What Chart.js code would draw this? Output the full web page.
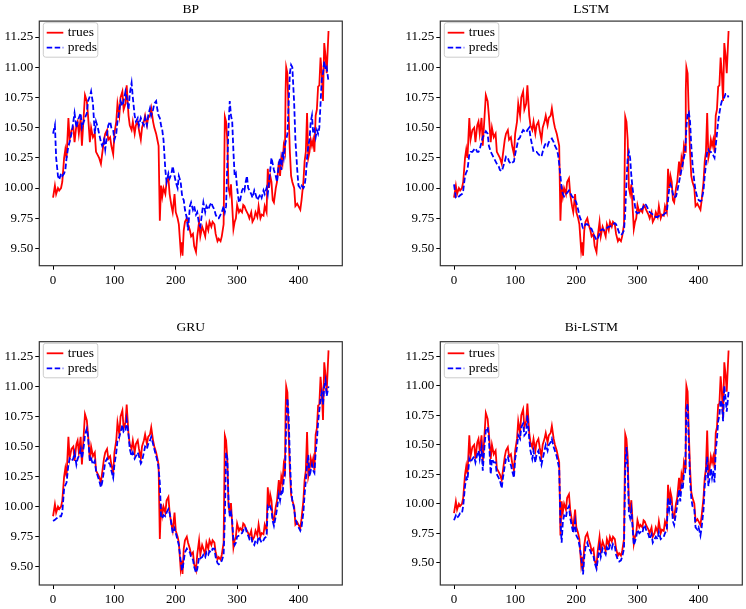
<!DOCTYPE html>
<html>
<head>
<meta charset="utf-8">
<script src="https://cdn.jsdelivr.net/npm/chart.js@4.4.0/dist/chart.umd.min.js"></script>
<style>
  html, body { margin: 0; padding: 0; background: #fff; overflow: hidden; }
  body { width: 746px; height: 609px; position: relative; }
  .panel { position: absolute; }
</style>
</head>
<body>
<div class="panel" id="p1" style="left:0px;top:0px;width:350px;height:300px"><canvas id="c1"></canvas></div>
<div class="panel" id="p2" style="left:401px;top:0px;width:345px;height:300px"><canvas id="c2"></canvas></div>
<div class="panel" id="p3" style="left:0px;top:316px;width:350px;height:293px"><canvas id="c3"></canvas></div>
<div class="panel" id="p4" style="left:401px;top:316px;width:345px;height:293px"><canvas id="c4"></canvas></div>
<script>
// sample index (x) shared by every series
const xs = [
  0,3,5,8,10,13,15,18,20,22,
  25,27,30,33,35,38,40,42,45,47,
  50,52,55,57,60,62,65,68,70,73,
  75,78,80,83,85,88,90,93,95,98,
  100,103,105,108,110,113,115,118,120,123,
  125,128,130,133,135,138,140,143,145,148,
  150,153,155,158,160,163,165,168,170,172,
  174,176,178,180,183,185,188,190,193,195,
  198,200,203,205,208,210,211,213,215,218,
  220,223,225,228,230,233,235,238,240,243,
  245,248,250,253,255,258,260,263,265,268,
  270,273,275,278,280,282,284,286,288,290,
  292,294,296,298,300,303,305,308,310,312,
  314,316,318,320,323,325,328,330,333,335,
  338,340,343,345,348,350,352,354,356,358,
  360,363,365,368,370,372,374,376,378,379,
  380,382,384,386,388,390,393,395,398,400,
  403,405,408,410,412,414,416,418,420,422,
  424,426,428,430,432,434,436,438,440,442,
  444,446,449
];

const trues = [
  9.92,10.02,9.95,10.00,9.98,10.00,10.05,10.25,10.32,10.25,
  10.58,10.40,10.48,10.50,10.38,10.52,10.55,10.45,10.58,10.35,
  10.60,10.77,10.72,10.60,10.38,10.50,10.42,10.45,10.30,10.27,
  10.25,10.20,10.28,10.40,10.45,10.48,10.40,10.42,10.35,10.28,
  10.45,10.55,10.70,10.60,10.75,10.80,10.65,10.70,10.85,10.60,
  10.52,10.48,10.55,10.45,10.52,10.55,10.48,10.40,10.50,10.55,
  10.60,10.52,10.58,10.60,10.66,10.55,10.50,10.45,10.40,10.35,
  9.73,10.02,9.93,10.00,9.95,10.05,10.08,9.95,9.85,9.80,
  9.95,9.80,9.75,9.70,9.48,9.55,9.44,9.65,9.72,9.75,
  9.70,9.65,9.60,9.62,9.52,9.47,9.60,9.72,9.60,9.68,
  9.65,9.60,9.70,9.65,9.72,9.68,9.72,9.70,9.62,9.56,
  9.58,9.56,9.60,9.70,10.59,10.55,10.40,10.00,9.95,10.03,
  9.85,9.66,9.72,9.75,9.86,9.80,9.82,9.80,9.86,9.85,
  9.82,9.80,9.78,9.75,9.80,9.72,9.75,9.80,9.76,9.85,
  9.75,9.78,9.77,9.85,9.80,10.16,10.00,10.10,10.05,9.90,
  9.88,10.00,10.05,10.22,10.10,10.25,10.20,10.35,10.30,10.80,
  11.00,10.95,10.60,10.30,10.10,10.05,10.00,9.85,9.87,9.85,
  9.82,9.90,10.05,10.22,10.30,10.62,10.25,10.30,10.40,10.35,
  10.40,10.30,10.60,10.65,10.84,10.85,11.08,10.95,10.72,11.20,
  11.10,10.95,11.30
];

const predsBP = [
  10.45,10.52,10.25,10.10,10.07,10.12,10.10,10.12,10.15,10.25,
  10.35,10.38,10.45,10.55,10.62,10.50,10.55,10.58,10.62,10.50,
  10.55,10.58,10.62,10.72,10.76,10.80,10.70,10.45,10.55,10.50,
  10.45,10.38,10.35,10.40,10.32,10.45,10.52,10.55,10.50,10.48,
  10.40,10.45,10.55,10.65,10.72,10.68,10.72,10.80,10.75,10.65,
  10.78,10.87,10.75,10.60,10.55,10.58,10.52,10.58,10.55,10.52,
  10.58,10.52,10.60,10.66,10.60,10.65,10.70,10.72,10.65,10.60,
  10.58,10.52,10.48,10.40,10.15,10.05,10.12,10.08,10.12,10.18,
  10.10,10.05,10.00,10.10,10.05,9.95,9.92,9.90,9.82,9.75,
  9.65,9.85,9.88,9.82,9.85,9.78,9.80,9.70,9.68,9.80,
  9.88,9.80,9.85,9.82,9.85,9.88,9.85,9.82,9.78,9.75,
  9.75,9.78,9.80,9.85,9.80,9.85,10.20,10.50,10.72,10.60,
  10.55,10.30,10.10,10.12,10.00,9.88,9.90,9.98,10.00,9.98,
  10.05,10.10,10.00,9.98,9.95,9.92,9.98,9.95,9.90,9.92,
  9.95,9.92,9.98,9.95,10.00,9.95,10.05,10.15,10.25,10.20,
  10.15,10.10,10.05,10.20,10.25,10.15,10.30,10.25,10.35,10.38,
  10.40,10.45,10.70,10.95,11.02,11.00,10.70,10.40,10.15,10.02,
  10.00,10.02,10.00,10.02,10.10,10.25,10.35,10.40,10.55,10.60,
  10.45,10.48,10.42,10.48,10.45,10.50,10.70,10.90,10.95,11.05,
  10.98,11.00,10.88
];

const predsLSTM = [
  10.03,9.92,9.92,9.93,9.94,9.95,9.98,10.10,10.13,10.15,
  10.28,10.30,10.30,10.32,10.33,10.30,10.30,10.32,10.38,10.42,
  10.45,10.47,10.45,10.35,10.30,10.28,10.25,10.22,10.20,10.18,
  10.15,10.14,10.17,10.22,10.26,10.25,10.22,10.20,10.21,10.22,
  10.28,10.35,10.40,10.42,10.45,10.48,10.47,10.46,10.48,10.50,
  10.42,10.35,10.30,10.30,10.30,10.28,10.27,10.26,10.30,10.35,
  10.37,10.35,10.38,10.40,10.41,10.38,10.35,10.32,10.28,10.20,
  10.10,10.00,9.95,9.93,9.95,9.96,9.98,9.96,9.93,9.92,
  9.90,9.88,9.82,9.77,9.73,9.68,9.67,9.68,9.70,9.70,
  9.69,9.67,9.66,9.62,9.60,9.57,9.58,9.62,9.65,9.66,
  9.65,9.66,9.67,9.68,9.68,9.69,9.70,9.71,9.70,9.66,
  9.63,9.61,9.62,9.65,9.80,10.05,10.25,10.30,10.25,10.10,
  10.00,9.92,9.85,9.80,9.79,9.80,9.82,9.83,9.85,9.87,
  9.86,9.84,9.82,9.80,9.79,9.78,9.77,9.76,9.76,9.77,
  9.77,9.77,9.78,9.79,9.80,9.90,10.00,10.03,10.00,9.95,
  9.92,9.93,9.97,10.05,10.10,10.15,10.20,10.25,10.30,10.40,
  10.50,10.62,10.63,10.55,10.35,10.20,10.05,9.98,9.92,9.90,
  9.89,9.90,9.98,10.10,10.20,10.30,10.32,10.30,10.30,10.28,
  10.27,10.25,10.35,10.45,10.55,10.62,10.68,10.72,10.73,10.75,
  10.78,10.78,10.75
];

const predsGRU = [
  9.88,9.89,9.90,9.91,9.92,9.92,9.95,10.15,10.18,10.20,
  10.35,10.40,10.38,10.40,10.45,10.35,10.40,10.42,10.48,10.40,
  10.50,10.60,10.65,10.58,10.38,10.40,10.35,10.38,10.30,10.25,
  10.22,10.16,10.20,10.30,10.37,10.40,10.37,10.35,10.30,10.24,
  10.35,10.45,10.55,10.58,10.62,10.68,10.62,10.63,10.72,10.60,
  10.48,10.42,10.45,10.40,10.42,10.45,10.42,10.36,10.38,10.45,
  10.50,10.48,10.52,10.55,10.58,10.52,10.48,10.42,10.38,10.32,
  10.20,9.92,9.90,9.93,9.92,9.95,9.98,9.95,9.85,9.78,
  9.82,9.78,9.72,9.68,9.55,9.48,9.47,9.55,9.62,9.65,
  9.63,9.62,9.58,9.56,9.50,9.45,9.48,9.58,9.57,9.58,
  9.60,9.58,9.62,9.60,9.63,9.62,9.65,9.65,9.58,9.53,
  9.52,9.53,9.55,9.60,9.90,10.45,10.40,10.05,9.92,9.95,
  9.88,9.72,9.68,9.70,9.75,9.76,9.77,9.78,9.80,9.83,
  9.82,9.78,9.76,9.73,9.75,9.70,9.68,9.72,9.70,9.75,
  9.72,9.70,9.72,9.74,9.75,10.00,9.98,10.00,9.97,9.88,
  9.84,9.92,9.98,10.10,10.05,10.12,10.10,10.22,10.28,10.45,
  10.70,10.90,10.75,10.40,10.15,10.05,9.98,9.90,9.85,9.83,
  9.80,9.83,9.95,10.10,10.22,10.35,10.43,10.25,10.30,10.35,
  10.30,10.28,10.45,10.55,10.70,10.80,10.90,10.95,10.85,11.00,
  11.05,10.92,11.00
];

const predsBiLSTM = [
  9.86,9.90,9.88,9.90,9.92,9.92,9.98,10.15,10.22,10.20,
  10.38,10.35,10.38,10.40,10.35,10.42,10.45,10.38,10.48,10.28,
  10.50,10.62,10.65,10.55,10.25,10.38,10.35,10.35,10.25,10.22,
  10.20,10.13,10.22,10.32,10.38,10.40,10.35,10.33,10.28,10.22,
  10.38,10.48,10.58,10.55,10.65,10.68,10.58,10.60,10.75,10.55,
  10.45,10.38,10.45,10.35,10.42,10.45,10.40,10.33,10.38,10.45,
  10.50,10.45,10.50,10.52,10.55,10.48,10.45,10.40,10.35,10.30,
  9.85,9.67,9.85,9.90,9.88,9.95,9.98,9.88,9.80,9.75,
  9.85,9.73,9.70,9.65,9.55,9.45,9.40,9.55,9.63,9.67,
  9.63,9.60,9.57,9.56,9.50,9.45,9.52,9.63,9.55,9.62,
  9.60,9.57,9.63,9.60,9.65,9.62,9.66,9.64,9.57,9.52,
  9.51,9.52,9.55,9.62,10.30,10.48,10.30,9.92,9.88,9.95,
  9.80,9.65,9.68,9.72,9.78,9.75,9.76,9.75,9.80,9.82,
  9.78,9.76,9.74,9.70,9.74,9.67,9.70,9.72,9.70,9.76,
  9.70,9.71,9.72,9.75,9.78,10.05,9.95,10.02,9.98,9.85,
  9.82,9.92,9.98,10.12,10.02,10.15,10.12,10.25,10.25,10.55,
  10.80,10.85,10.50,10.20,10.05,9.98,9.95,9.80,9.78,9.80,
  9.73,9.80,9.95,10.15,10.25,10.40,10.15,10.22,10.30,10.22,
  10.28,10.18,10.45,10.55,10.70,10.75,10.88,10.85,10.70,11.00,
  10.90,10.78,10.95
];

const xTicks = [0, 100, 200, 300, 400];
const yTicks = [9.50, 9.75, 10.00, 10.25, 10.50, 10.75, 11.00, 11.25];

Chart.defaults.font.family = '"Liberation Serif", "Times New Roman", serif';
Chart.defaults.font.size = 13;
Chart.defaults.color = '#000';

// frame round the axes + matplotlib style legend box in upper left
const axesDecor = {
  id: 'axesDecor',
  afterDatasetsDraw( chart ) {
    const { ctx, chartArea: a } = chart;
    ctx.save();
    ctx.strokeStyle = '#333';
    ctx.lineWidth = 1.2;
    ctx.strokeRect( a.left, a.top, a.right - a.left, a.bottom - a.top );

    const bx = a.left + 4, by = a.top + 1.6, bw = 54.5, bh = 34.5, r = 2.5;
    ctx.beginPath();
    ctx.moveTo( bx + r, by );
    ctx.arcTo( bx + bw, by, bx + bw, by + bh, r );
    ctx.arcTo( bx + bw, by + bh, bx, by + bh, r );
    ctx.arcTo( bx, by + bh, bx, by, r );
    ctx.arcTo( bx, by, bx + bw, by, r );
    ctx.closePath();
    ctx.fillStyle = 'rgba(255,255,255,0.8)';
    ctx.fill();
    ctx.strokeStyle = '#cccccc';
    ctx.lineWidth = 1;
    ctx.stroke();

    ctx.font = '13.5px "Liberation Serif", serif';
    ctx.textBaseline = 'middle';
    chart.data.datasets.forEach( ( ds, i ) => {
      const y = by + 10 + i * 15;
      ctx.beginPath();
      ctx.strokeStyle = ds.borderColor;
      ctx.lineWidth = ds.borderWidth;
      ctx.setLineDash( ds.borderDash || [] );
      ctx.moveTo( bx + 3.4, y );
      ctx.lineTo( bx + 20, y );
      ctx.stroke();
      ctx.setLineDash( [] );
      ctx.fillStyle = '#000';
      ctx.fillText( ds.label, bx + 24.4, y );
    } );
    ctx.restore();
  }
};

function makePanel( id, title, preds, yMin, yMax, opts ) {
  return new Chart( document.getElementById( id ), {
    type: 'line',
    data: {
      datasets: [
        {
          label: 'trues',
          data: xs.map( ( x, i ) => ( { x: x, y: trues[i] } ) ),
          borderColor: '#ff0000',
          borderWidth: 1.8,
          pointRadius: 0,
          order: 1,
        },
        {
          label: 'preds',
          data: xs.map( ( x, i ) => ( { x: x, y: preds[i] } ) ),
          borderColor: '#0000ff',
          borderWidth: 1.8,
          borderDash: [5.5, 2.5],
          pointRadius: 0,
          order: 0,
        },
      ],
    },
    options: {
      responsive: true,
      maintainAspectRatio: false,
      animation: false,
      layout: {
        padding: { left: 0, right: opts.padRight, top: 0, bottom: 0 },
      },
      plugins: {
        legend: { display: false },
        tooltip: { enabled: false },
        title: {
          display: true,
          text: title,
          fullSize: false,
          color: '#000',
          font: { size: 13.5, weight: 'normal' },
          padding: { top: opts.titleTop, bottom: opts.titleBottom },
        },
      },
      scales: {
        x: {
          type: 'linear',
          min: -22.45,
          max: 471.45,
          afterBuildTicks: ( scale ) => {
            scale.ticks = xTicks.map( ( v ) => ( { value: v } ) );
          },
          afterFit: ( scale ) => {
            scale.height = opts.xHeight;
          },
          grid: { drawOnChartArea: false, drawTicks: true, tickLength: 4, color: '#000' },
          border: { display: false },
          ticks: { padding: 3, maxRotation: 0, autoSkip: false, callback: ( v ) => String( v ) },
        },
        y: {
          min: yMin,
          max: yMax,
          afterBuildTicks: ( scale ) => {
            scale.ticks = yTicks.map( ( v ) => ( { value: v } ) );
          },
          afterFit: ( scale ) => {
            scale.width = 39.3;
          },
          grid: { drawOnChartArea: false, drawTicks: true, tickLength: 4, color: '#000' },
          border: { display: false },
          ticks: { padding: 2, autoSkip: false, callback: ( v ) => v.toFixed( 2 ) },
        },
      },
    },
    plugins: [axesDecor],
  } );
}

makePanel( 'c1', 'BP', predsBP, 9.357, 11.382, { padRight: 7.7, titleTop: 1.2, titleBottom: 3.7, xHeight: 34.3 } );
makePanel( 'c2', 'LSTM', predsLSTM, 9.357, 11.382, { padRight: 3.7, titleTop: 1.2, titleBottom: 3.7, xHeight: 34.3 } );
makePanel( 'c3', 'GRU', predsGRU, 9.348, 11.372, { padRight: 7.7, titleTop: 3.5, titleBottom: 6.0, xHeight: 24 } );
makePanel( 'c4', 'Bi-LSTM', predsBiLSTM, 9.311, 11.374, { padRight: 3.7, titleTop: 3.5, titleBottom: 6.0, xHeight: 24 } );
</script>
</body>
</html>
